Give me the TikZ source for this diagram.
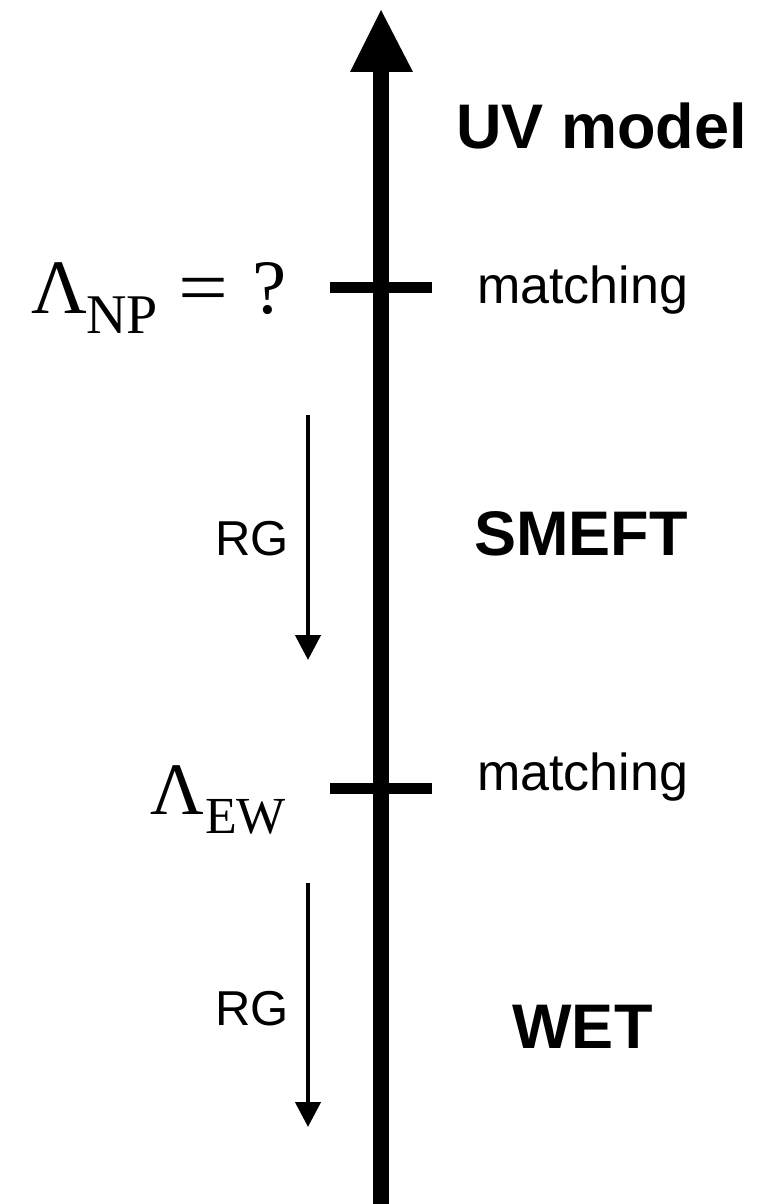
\documentclass[tikz,border=0pt]{standalone}
\usepackage{fontspec}
\usepackage{graphicx}
\setmainfont{Liberation Sans}
\newfontfamily\serifgr{Liberation Serif}
\usetikzlibrary{arrows.meta}
\tikzset{
  axisline/.style={line width=16pt},
  tickline/.style={line width=11pt},
  rgarrow/.style={line width=4.5pt,-{Triangle[length=25pt,width=25pt]}},
  lbl/.style={inner sep=0pt,anchor=base},
  lblw/.style={inner sep=0pt,anchor=base west},
  bigb/.style={font=\fontsize{63}{70}\selectfont\bfseries},
  midt/.style={font=\fontsize{52}{60}\selectfont},
  rgt/.style={font=\fontsize{49}{56}\selectfont},
}
\begin{document}
\begin{tikzpicture}[x=1pt,y=-1pt]
\useasboundingbox (0,0) rectangle (764,1204);
% axis
\coordinate (bot) at (381,1204);
\coordinate (base) at (381,70);
\coordinate (tipL) at (350,72);
\coordinate (tipR) at (413,72);
\coordinate (tip) at (381,10);
\draw[axisline] (bot) -- (base);
\fill (tipL) -- (tip) -- (tipR) -- cycle;
% ticks
\coordinate (t1a) at (330,287);
\coordinate (t1b) at (432,287);
\coordinate (t2a) at (330,788.5);
\coordinate (t2b) at (432,788.5);
\draw[tickline] (t1a) -- (t1b);
\draw[tickline] (t2a) -- (t2b);
% RG arrows
\coordinate (rg1s) at (308,415);
\coordinate (rg1e) at (308,660);
\coordinate (rg2s) at (308,883);
\coordinate (rg2e) at (308,1127);
\draw[rgarrow] (rg1s) -- (rg1e);
\draw[rgarrow] (rg2s) -- (rg2e);
% labels right
\node[lbl,bigb] (uv) at (601.5,148) {UV model};
\node[lbl,midt] (m1) at (582.5,303) {matching};
\node[lbl,bigb] (smeft) at (581,555) {SMEFT};
\node[lbl,midt] (m2) at (582.5,790) {matching};
\node[lbl,bigb] (wet) at (582.5,1048) {WET};
% RG labels
\node[lblw,rgt] (rg1) at (215,555) {RG};
\node[lblw,rgt] (rg2) at (215,1025) {RG};
% Lambda NP
\node[lblw,font=\fontsize{77}{80}\selectfont\serifgr] (lnp) at (31,313) {Λ};
\node[lblw,font=\fontsize{56}{60}\selectfont\serifgr] (np) at (86,333) {NP};
\node[lblw,font=\fontsize{77}{80}\selectfont\serifgr] (eq) at (178,313) {\scalebox{1.15}[1]{=}};
\node[lblw,font=\fontsize{77}{80}\selectfont\serifgr] (q) at (252,313) {?};
% Lambda EW
\node[lblw,font=\fontsize{74}{80}\selectfont\serifgr] (lew) at (150,814) {Λ};
\node[lblw,font=\fontsize{52}{60}\selectfont\serifgr] (ew) at (205,833) {EW};
\end{tikzpicture}
\end{document}
